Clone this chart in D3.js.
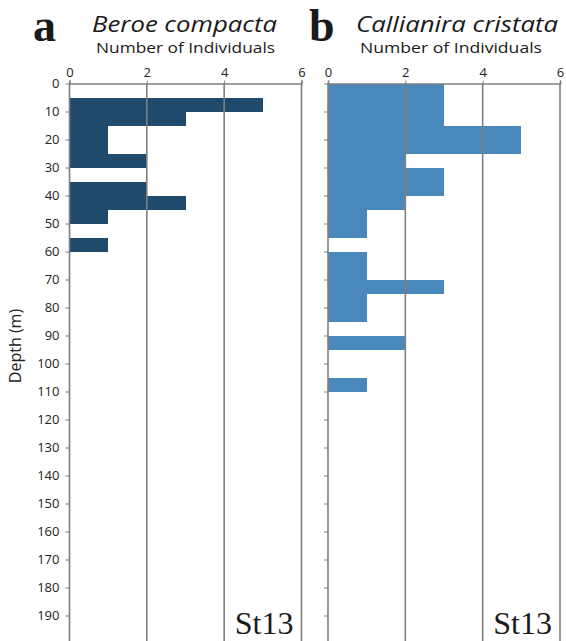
<!DOCTYPE html>
<html>
<head>
<meta charset="utf-8">
<script src="https://cdn.jsdelivr.net/npm/d3@7"></script>
<style>
  html, body { margin: 0; padding: 0; background: #fff; }
  svg { display: block; }
</style>
</head>
<body>
<svg id="chart" width="566" height="641"></svg>
<script>
// Depth bins (upper edge of each 5 m layer)
const binTops = [0, 5, 10, 15, 20, 25, 30, 35, 40, 45, 50, 55, 60, 65, 70, 75, 80, 85, 90, 95, 100, 105];
const binSize = 5;

// Number of individuals per 5 m layer
const beroeCounts      = [0, 5, 3, 1, 1, 2, 0, 2, 3, 1, 0, 1, 0, 0, 0, 0, 0, 0, 0, 0, 0, 0];
const callianiraCounts = [3, 3, 3, 5, 5, 2, 3, 3, 2, 1, 1, 0, 1, 1, 3, 1, 1, 0, 2, 0, 0, 1];

const xTicks = [0, 2, 4, 6];
const depthTicks = d3.range(0, 200, 10);

const panels = [
  { letter: "a", species: "Beroe compacta",      counts: beroeCounts,      color: "#1f4a6b", left: 69.5,
    letterX: 33, titleX: 184.5, titleW: 185, subX: 185.5, subW: 179, showDepthLabels: true },
  { letter: "b", species: "Callianira cristata", counts: callianiraCounts, color: "#4a87bb", left: 328,
    letterX: 309, titleX: 457, titleW: 202, subX: 451, subW: 182, showDepthLabels: false }
];

const svg = d3.select("#chart");
const panelWidth = 232;
const plotTop = 83.5;
const sans = "'Open Sans', 'Noto Sans', sans-serif";
const serif = "'Liberation Serif', 'DejaVu Serif', serif";
const axisGrey = "#7f7f7f";

const y = d3.scaleLinear().domain([0, 200]).range([plotTop, plotTop + 560]);

panels.forEach(p => {
  const x = d3.scaleLinear().domain([0, 6]).range([p.left, p.left + panelWidth]);
  const g = svg.append("g");

  // bars, one per 5 m layer
  g.selectAll("rect.bar")
    .data(binTops.map((d, i) => ({ depth: d, n: p.counts[i] })).filter(d => d.n > 0))
    .join("rect")
    .attr("class", "bar")
    .attr("x", x(0))
    .attr("y", d => y(d.depth))
    .attr("width", d => x(d.n) - x(0))
    .attr("height", d => y(d.depth + binSize) - y(d.depth))
    .attr("fill", p.color)
    .attr("shape-rendering", "crispEdges");

  // vertical gridlines at 2, 4, 6
  g.selectAll("line.grid")
    .data(xTicks.filter(t => t > 0))
    .join("line")
    .attr("class", "grid")
    .attr("x1", d => x(d)).attr("x2", d => x(d))
    .attr("y1", plotTop).attr("y2", 641)
    .attr("stroke", axisGrey)
    .attr("stroke-width", 1.6);

  // top value axis
  const xAxis = d3.axisTop(x).tickValues(xTicks).tickSize(3).tickPadding(4).tickFormat(d3.format("d"));
  const xa = g.append("g").attr("transform", `translate(0,${plotTop})`).call(xAxis);
  xa.select(".domain").attr("stroke", axisGrey).attr("stroke-width", 1.6);
  xa.selectAll(".tick line").attr("stroke", axisGrey);
  xa.selectAll(".tick text")
    .attr("font-family", sans)
    .attr("font-size", 13)
    .attr("fill", "#222");

  // depth axis
  const yAxis = d3.axisLeft(y).tickValues(depthTicks).tickSize(4).tickPadding(6)
    .tickFormat(p.showDepthLabels ? d3.format("d") : () => "");
  const ya = g.append("g").attr("transform", `translate(${x(0)},0)`).call(yAxis);
  ya.select(".domain").attr("stroke", axisGrey).attr("stroke-width", 1.6)
    .attr("d", `M0,${plotTop}V641`);
  ya.selectAll(".tick line").attr("stroke", axisGrey);
  ya.selectAll(".tick text")
    .attr("font-family", sans)
    .attr("font-size", 13)
    .attr("fill", "#222");

  // panel letter
  g.append("text")
    .attr("x", p.letterX).attr("y", 41)
    .attr("font-family", serif)
    .attr("font-weight", "bold")
    .attr("font-size", 46)
    .attr("fill", "#1a1a1a")
    .text(p.letter);

  // species name
  g.append("text")
    .attr("x", p.titleX - p.titleW / 2).attr("y", 31.5)
    .attr("font-family", sans)
    .attr("font-style", "italic")
    .attr("font-size", 22)
    .attr("textLength", p.titleW)
    .attr("lengthAdjust", "spacingAndGlyphs")
    .attr("fill", "#1a1a1a")
    .text(p.species);

  // axis title
  g.append("text")
    .attr("x", p.subX - p.subW / 2).attr("y", 53)
    .attr("font-family", sans)
    .attr("font-size", 14.5)
    .attr("textLength", p.subW)
    .attr("lengthAdjust", "spacingAndGlyphs")
    .attr("fill", "#1a1a1a")
    .text("Number of Individuals");

  // station label
  g.append("text")
    .attr("x", x(6) - 8).attr("y", 634)
    .attr("text-anchor", "end")
    .attr("font-family", serif)
    .attr("font-size", 32)
    .attr("fill", "#1a1a1a")
    .text("St13");
});

// depth axis title
svg.append("text")
  .attr("transform", "translate(21,346) rotate(-90)")
  .attr("text-anchor", "middle")
  .attr("font-family", sans)
  .attr("font-size", 16)
  .attr("fill", "#222")
  .text("Depth (m)");
</script>
</body>
</html>
